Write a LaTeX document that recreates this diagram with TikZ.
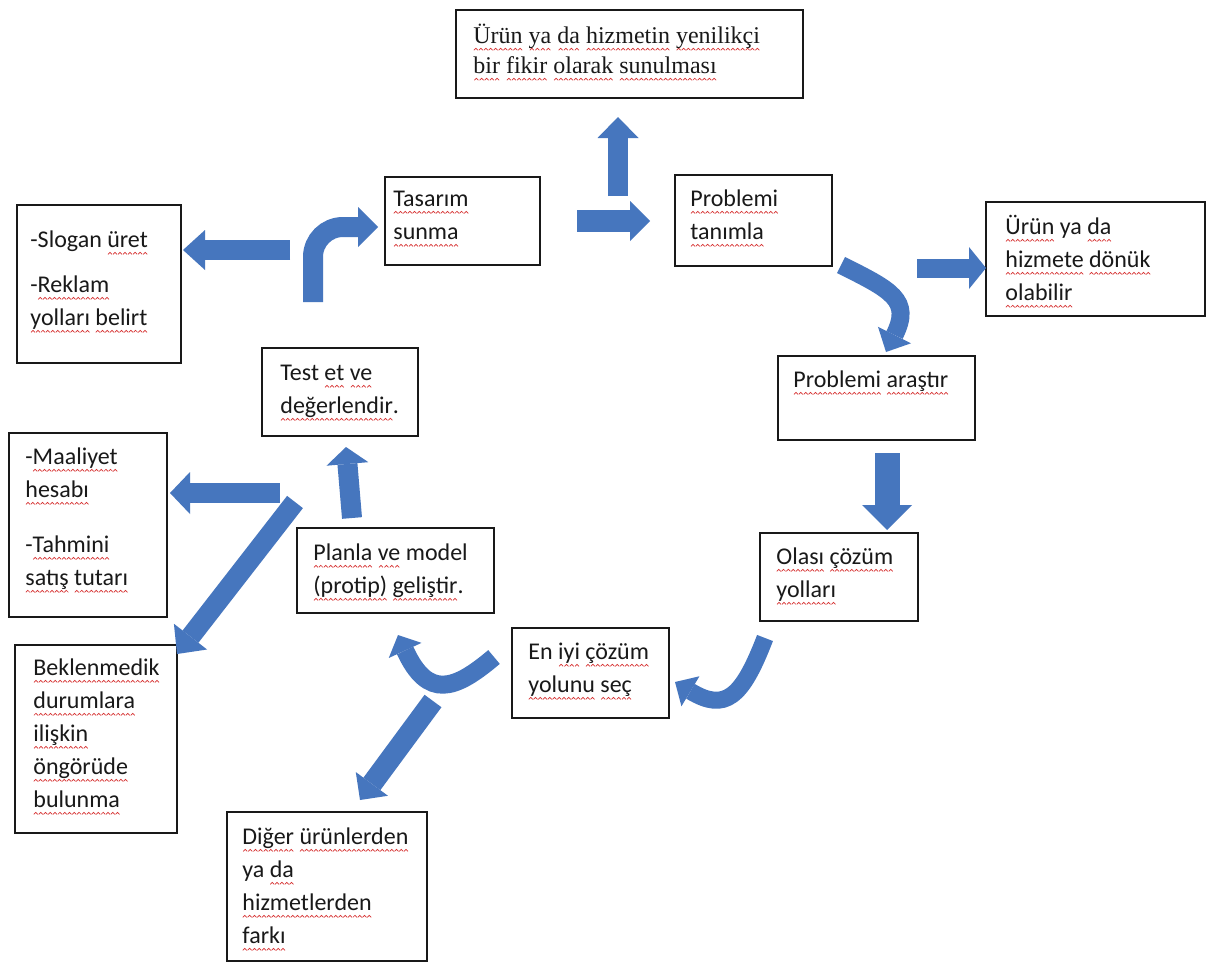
\documentclass[tikz,border=0pt]{standalone}
\usepackage{fontspec}
\setmainfont{Carlito}
\newfontfamily\serifface{Liberation Serif}
\usetikzlibrary{arrows.meta,fit}
\definecolor{arrowblue}{RGB}{70,118,190}
\definecolor{wavered}{RGB}{215,50,50}
\definecolor{boxline}{RGB}{25,25,25}
\newsavebox{\wavebox}
\newsavebox{\rwbox}
\newcommand\rw[1]{\setbox\rwbox\hbox{#1}\leavevmode\rlap{\lower3.6pt\hbox to\wd\rwbox{\xleaders\copy\wavebox\hfill}}\box\rwbox}
\tikzset{
  box/.style={draw=boxline, line width=0.75pt, inner sep=0pt},
  txt/.style={anchor=north west, inner sep=0pt, align=left, text=black!90,
    font=\fontsize{12}{16.5}\selectfont},
  serif/.style={anchor=north west, inner sep=0pt, align=left, text=black!90,
    font=\serifface\fontsize{12}{15}\selectfont},
  blk/.style n args={3}{draw=arrowblue, line width=#1, line cap=butt,
    -{Triangle[length=#2,width=#3,line width=0pt]}}
}
\begin{document}
\sbox{\wavebox}{\begin{pgfpicture}\pgfsetstrokecolor{wavered}\pgfsetlinewidth{0.35pt}\pgfpathmoveto{\pgfpointorigin}\pgfpathlineto{\pgfpoint{1pt}{1pt}}\pgfpathlineto{\pgfpoint{2pt}{0pt}}\pgfusepath{stroke}\end{pgfpicture}}%
\begin{tikzpicture}[x=0.5pt,y=-0.5pt]
\fill[white] (0,0) rectangle (1208,963);
\useasboundingbox (0,0) rectangle (1208,963);

% boxes
\node[box, fit={(456,10) (803,98)}] (top) {};
\node[box, fit={(385,177) (540,265)}] (tasarim) {};
\node[box, fit={(675,175) (832,266)}] (problemi) {};
\node[box, fit={(986,202) (1205,316)}] (urun) {};
\node[box, fit={(778,356) (975,440)}] (arastir) {};
\node[box, fit={(760,533) (918,621)}] (olasi) {};
\node[box, fit={(512,628) (669,718)}] (eniyi) {};
\node[box, fit={(227,812) (427,961)}] (diger) {};
\node[box, fit={(297,528) (494,613)}] (planla) {};
\node[box, fit={(262,348) (418,436)}] (test) {};
\node[box, fit={(17,205) (181,363)}] (slogan) {};
\node[box, fit={(9,433) (167,617)}] (maaliyet) {};
\node[box, fit={(15,645) (177,833)}] (bekle) {};

% texts
\node[serif] (toptext) at (473,22) {\strut\rw{Ürün} \rw{ya} \rw{da} \rw{hizmetin} \rw{yenilikçi}\\\rw{bir} \rw{fikir} \rw{olarak} \rw{sunulması}};
\node[txt] (tasarimtext) at (393,183) {\strut\rw{Tasarım}\\\rw{sunma}};
\node[txt] (problemitext) at (690,183) {\strut\rw{Problemi}\\\rw{tanımla}};
\node[txt] (uruntext) at (1005,211) {\strut\rw{Ürün} ya \rw{da}\\\rw{hizmete} \rw{dönük}\\\rw{olabilir}};
\node[txt] (arastirtext) at (793,364) {\strut\rw{Problemi} \rw{araştır}};
\node[txt] (olasitext) at (776,541) {\strut\rw{Olası} \rw{çözüm}\\\rw{yolları}};
\node[txt] (eniyitext) at (528,636) {\strut En \rw{iyi} \rw{çözüm}\\\rw{yolunu} \rw{seç}};
\node[txt] (digertext) at (242,821) {\strut\rw{Diğer} \rw{ürünlerden}\\ya \rw{da}\\\rw{hizmetlerden}\\\rw{farkı}};
\node[txt] (planlatext) at (313,537) {\strut\rw{Planla} \rw{ve} model\\\rw{(protip)} \rw{geliştir}.};
\node[txt] (testtext) at (280,357) {\strut Test \rw{et} \rw{ve}\\\rw{değerlendir}.};
\node[txt] (slogantext) at (30,224) {\strut -Slogan \rw{üret}\\[6pt]-\rw{Reklam}\\\rw{yolları} \rw{belirt}};
\node[txt] (maaliyettext) at (25,441) {\strut -\rw{Maaliyet}\\\rw{hesabı}\\[11pt]-\rw{Tahmini}\\\rw{satış} \rw{tutarı}};
\node[txt] (bekletext) at (33,652) {\strut\rw{Beklenmedik}\\\rw{durumlara}\\\rw{ilişkin}\\\rw{öngörüde}\\\rw{bulunma}};

% arrow end points
\coordinate (a1s) at (618,196); \coordinate (a1e) at (618,117);
\coordinate (a2s) at (577,221); \coordinate (a2e) at (650,221);
\coordinate (a3s) at (290,250); \coordinate (a3e) at (183,250);
\coordinate (a4s) at (313,302); \coordinate (a4m) at (313,227); \coordinate (a4e) at (378,227);
\coordinate (a5s) at (352,518); \coordinate (a5e) at (346,447);
\coordinate (a6s) at (280,493); \coordinate (a6e) at (170,493);
\coordinate (a7s) at (295,502); \coordinate (a7e) at (177,654);
\coordinate (a8s) at (887,453); \coordinate (a8e) at (887,530);
\coordinate (a9s) at (917,268); \coordinate (a9e) at (986,268);
\coordinate (a10s) at (841,265); \coordinate (a10e) at (886,352);
\coordinate (a11s) at (765,638); \coordinate (a11e) at (675,682);
\coordinate (a12s) at (494,657); \coordinate (a12e) at (398,635);
\coordinate (a13s) at (433,701); \coordinate (a13e) at (360,800);

% block arrows
\draw[blk={10pt}{10.5pt}{20.5pt}] (a1s) -- (a1e);
\draw[blk={11pt}{10pt}{20pt}] (a2s) -- (a2e);
\draw[blk={10pt}{11pt}{20pt}] (a3s) -- (a3e);
\draw[blk={10pt}{10pt}{20pt}, rounded corners=15pt] (a4s) -- (a4m) -- (a4e);
\draw[blk={10pt}{8.5pt}{21pt}] (a5s) -- (a5e);
\draw[blk={10pt}{10pt}{21pt}] (a6s) -- (a6e);
\draw[blk={10pt}{11pt}{21pt}] (a7s) -- (a7e);
\draw[blk={12.5pt}{12.5pt}{25pt}] (a8s) -- (a8e);
\draw[blk={9.5pt}{8.5pt}{21pt}] (a9s) -- (a9e);
\draw[blk={9pt}{9.5pt}{18.5pt}] (a10s) .. controls (891,290) and (912,300) .. (a10e);
\draw[blk={8.5pt}{9pt}{17.5pt}] (a11s) .. controls (742,698) and (725,712) .. (a11e);
\draw[blk={9pt}{8.5pt}{18pt}] (a12s) .. controls (455,690) and (428,700) .. (a12e);
\draw[blk={10.5pt}{10pt}{20pt}] (a13s) -- (a13e);
\end{tikzpicture}
\end{document}
